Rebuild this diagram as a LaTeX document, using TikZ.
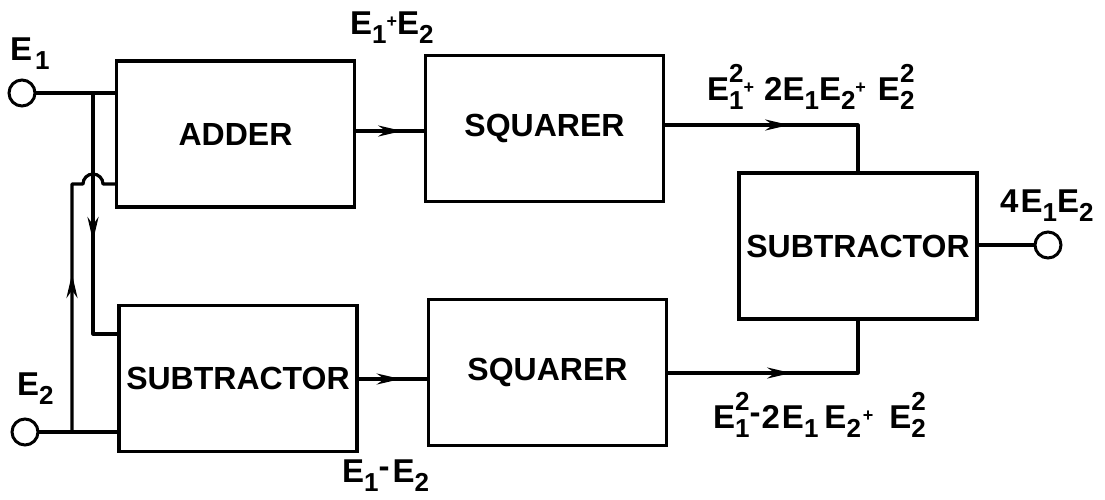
\documentclass[tikz,border=0pt]{standalone}
\usepackage{fontspec}
\setmainfont{Liberation Sans}
\usetikzlibrary{arrows.meta,decorations.markings}

% lowered index, raised exponent, squared term with stacked index
\newcommand\lo[1]{\raisebox{-9pt}{\fontsize{26}{26}\selectfont #1}}
\newcommand\hi[1]{\raisebox{18pt}{\fontsize{26}{26}\selectfont #1}}
\newcommand\Esq[1]{E\rlap{\lo{#1}}\hi{2}}
\newcommand\pl{\raisebox{7pt}{\fontsize{18}{18}\selectfont +}}
\newcommand\mi{\raisebox{5pt}{-}}

\tikzset{
  wire/.style={line width=3.2pt, line join=round, line cap=round},
  block/.style={draw, line width=3.4pt, minimum width=238pt, minimum height=146pt,
    font=\fontsize{32}{34}\selectfont\bfseries, inner sep=0pt},
  term/.style={draw, circle, line width=3pt, minimum size=26pt, inner sep=0pt, fill=white},
  lbl/.style={font=\fontsize{33}{35}\selectfont\bfseries, inner sep=0pt},
  tipat/.style={postaction={decorate}, decoration={markings,
    mark=at position #1 with {\arrow{Stealth[length=24pt,width=11pt]}}}},
}

\begin{document}
\begin{tikzpicture}[x=1pt,y=-1pt]
\useasboundingbox (0,0) rectangle (1105,499);

% blocks
\node[block] (adder) at (235.5,134)   {ADDER};
\node[block] (sq1)   at (544.5,128.5) {SQUARER};
\node[block] (sub1)  at (238,378.5)   {SUBTRACTOR};
\node[block] (sq2)   at (547.5,372.5) {SQUARER};
\node[block] (sub2)  at (858,246)     {SUBTRACTOR};

% terminals
\node[term] (t1) at (22,93)  {};
\node[term] (t2) at (25,432) {};
\node[term] (t3) at (1048,245) {};

% branch points and bends
\coordinate (j1) at (93,93);
\coordinate (j2) at (72,432);
\coordinate (bend1) at (93,334);
\coordinate (bend2) at (72,184);

% input wiring
\draw[wire] (t1) -- (adder.west |- t1);
\draw[wire, tipat=148pt] (j1) -- (bend1) -- (sub1.west |- bend1);
\draw[wire] (t2) -- (sub1.west |- t2);
\draw[wire, tipat=158pt] (j2) -- (bend2) -- ++(11,0)
  arc[start angle=180, end angle=360, radius=10] -- (adder.west |- bend2);

% signal path
\draw[wire, tipat=46pt] (adder.east |- 0,131) -- (sq1.west |- 0,131);
\draw[wire, tipat=42pt] (sub1.east |- 0,379) -- (sq2.west |- 0,379);
\draw[wire, tipat=124pt] (sq1.east |- 0,125) -- (sub2.north |- 0,125) -- (sub2.north);
\draw[wire, tipat=123pt] (sq2.east |- 0,373) -- (sub2.south |- 0,373) -- (sub2.south);
\draw[wire] (sub2.east |- t3) -- (t3);

% signal labels
\node[lbl, anchor=base west] (lE1)   at (10,60)   {E\hspace{3pt}\lo{1}};
\node[lbl, anchor=base west] (lE2)   at (17,395)  {E\lo{2}};
\node[lbl, anchor=base west] (lsum)  at (350,34)  {E\lo{1}\pl E\lo{2}};
\node[lbl, anchor=base west] (ldiff) at (342,482) {E\lo{1}\mi\hspace{3pt}E\lo{2}};
\node[lbl, anchor=base west] (lup)   at (707,100) {\Esq{1}\pl\hspace{10pt}2E\lo{1}E\lo{2}\pl\hspace{12pt}\Esq{2}};
\node[lbl, anchor=base west] (ldown) at (713,428) {\Esq{1}\mi\hspace{1pt}2\hspace{2pt}E\lo{1}\hspace{6pt}E\lo{2}\hspace{2pt}\pl\hspace{16pt}\Esq{2}};
\node[lbl, anchor=base west] (lout)  at (1000,212) {4\hspace{2pt}E\lo{1}E\lo{2}};
\end{tikzpicture}
\end{document}
